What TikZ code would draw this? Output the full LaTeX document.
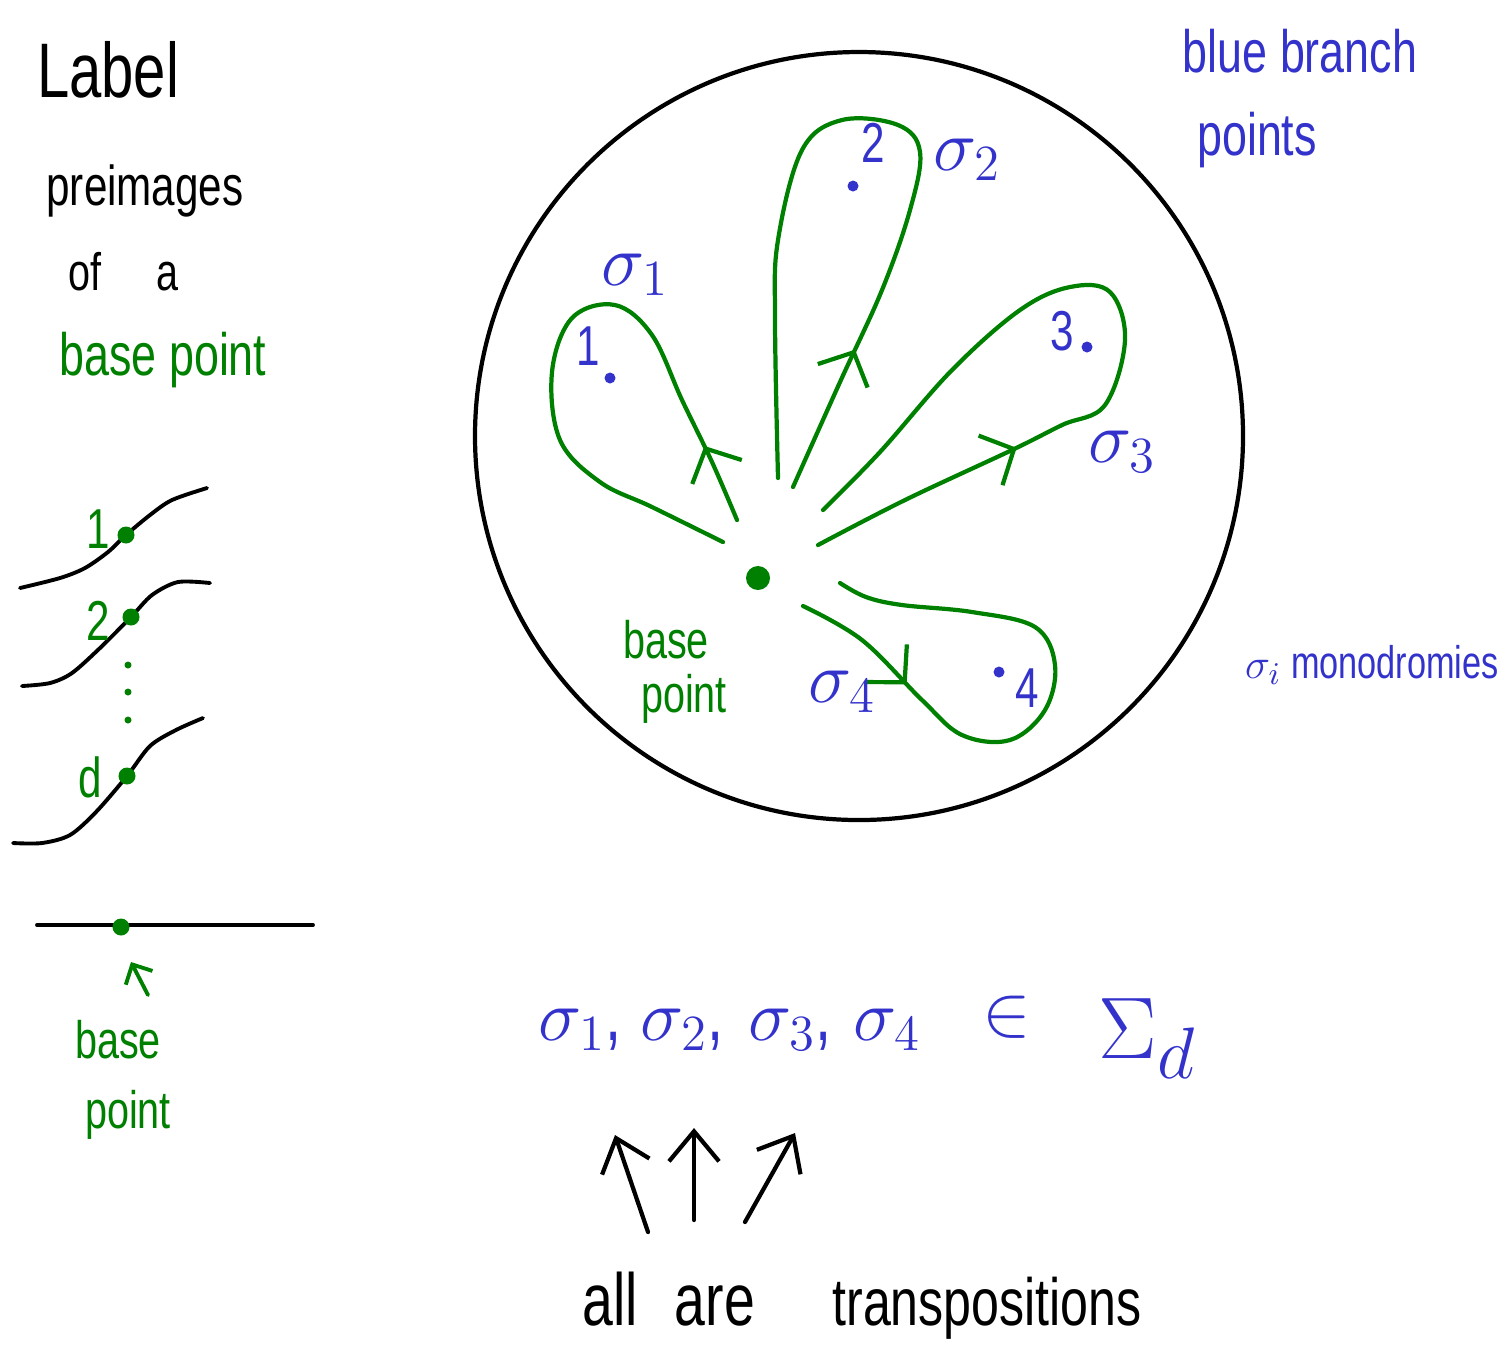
\documentclass[tikz,border=0pt]{standalone}
\usepackage{fontspec}
\setmainfont{Liberation Sans}[FakeStretch=0.75]
\usetikzlibrary{arrows.meta,decorations.markings}
\definecolor{pgreen}{RGB}{0,128,0}
\definecolor{pblue}{RGB}{51,51,204}
\newcommand{\fsz}[1]{\fontsize{#1}{#1}\selectfont}
\tikzset{
  txt/.style={inner sep=0pt, anchor=base},
  sheet/.style={black, line width=1.1pt},
  gdot/.style={circle, fill=pgreen, inner sep=0pt, minimum size=0.17cm},
  bdot/.style={circle, fill=pblue, inner sep=0pt, minimum size=0.11cm},
  monoloop/.style={pgreen, line width=1.2pt, postaction={decorate,
    decoration={markings, mark=at position #1 with {\arrow{Straight Barb[length=2.6mm,width=5.5mm]}}}}},
  bigarrow/.style={black, line width=1.2pt, -{Straight Barb[length=3mm,width=5mm]}}
}
\begin{document}
\begin{tikzpicture}[x=0.01cm, y=-0.01cm, line cap=round, line join=round]
\useasboundingbox (0,0) rectangle (1510,1365);

% left column: sheets over the base
\node[txt] (title) at (108,97) {\fsz{22pt}Label};
\node[txt] (pre) at (145,205) {\fsz{16pt}preimages};
\node[txt] (of) at (85,290) {\fsz{15pt}of};
\node[txt] (a) at (167,290) {\fsz{15pt}a};
\node[txt, pgreen] (bpt) at (163,375) {\fsz{17pt}base point};

\draw[sheet] plot[smooth] coordinates {(20,588) (60,578) (85,568) (108,552) (126,535) (150,515) (172,500) (207,488)};
\draw[sheet] plot[smooth] coordinates {(22,686) (50,683) (72,673) (100,648) (131,617) (152,595) (178,582) (210,583)};
\draw[sheet] plot[smooth] coordinates {(13,843) (42,843) (70,835) (96,812) (127,776) (150,746) (176,730) (203,718)};
\node[gdot] (s1) at (126,535) {};
\node[gdot] (s2) at (131,617) {};
\node[gdot] (sd) at (127,776) {};
\node[txt, pgreen] (l1) at (98,548) {\fsz{16pt}1};
\node[txt, pgreen] (l2) at (98,640) {\fsz{16pt}2};
\node[txt, pgreen] (ld) at (90,797) {\fsz{16pt}d};
\foreach \y in {665,692,720} {
    \fill[pgreen] (128,\y) circle (3.5);
}

\draw[sheet] (37,925) -- (313,925);
\node[gdot] (b0) at (121,927) {};
\coordinate (b0tip) at (131,962);
\coordinate (b0tail) at (148,995);
\draw[pgreen, line width=1.1pt, -{Straight Barb[length=1.5mm,width=3mm]}] (b0tail) -- (b0tip);
\node[txt, pgreen] (bl1) at (118,1058) {\fsz{15pt}base};
\node[txt, pgreen] (bl2) at (128,1128) {\fsz{15pt}point};

% the disc with branch points and loops
\draw[line width=1.2pt] (859,436) circle (384);
\node[gdot, minimum size=0.24cm] (b) at (758,578) {};
\node[bdot] (p1) at (610,378) {};
\node[bdot] (p2) at (853,186) {};
\node[bdot] (p3) at (1087,347) {};
\node[bdot] (p4) at (999,672) {};
\node[txt, pblue] (n1) at (588,365) {\fsz{16pt}1};
\node[txt, pblue] (n2) at (873,162) {\fsz{16pt}2};
\node[txt, pblue] (n3) at (1062,350) {\fsz{16pt}3};
\node[txt, pblue] (n4) at (1027,707) {\fsz{16pt}4};

\draw[monoloop=0.13] plot[smooth, tension=0.6] coordinates {(737,520) (712,462) (682,400) (652,335) (615,305) (572,318) (552,372) (560,440) (600,482) (652,507) (723,542)};
\draw[monoloop=0.18] plot[smooth, tension=0.6] coordinates {(793,487) (840,382) (882,290) (910,210) (920,152) (898,125) (842,120) (802,150) (778,240) (775,320) (778,478)};
\draw[monoloop=0.27] plot[smooth, tension=0.6] coordinates {(818,545) (905,500) (1012,450) (1062,425) (1105,405) (1125,340) (1110,292) (1070,287) (1020,310) (952,370) (880,452) (823,510)};
\draw[monoloop=0.22] plot[smooth, tension=0.6] coordinates {(803,606) (862,640) (922,700) (962,735) (1010,740) (1045,710) (1055,665) (1035,627) (972,612) (902,605) (866,597) (840,583)};

\node[txt, pblue] (g1) at (635,285) {\fsz{22pt}$\sigma_1$};
\node[txt, pblue] (g2) at (967,170) {\fsz{22pt}$\sigma_2$};
\node[txt, pblue] (g3) at (1122,462) {\fsz{22pt}$\sigma_3$};
\node[txt, pblue] (g4) at (842,702) {\fsz{22pt}$\sigma_4$};
\node[txt, pgreen] (cb1) at (666,658) {\fsz{15pt}base};
\node[txt, pgreen] (cb2) at (684,712) {\fsz{15pt}point};

% right side notes
\node[txt, pblue] (blue1) at (1300,72) {\fsz{17pt}blue branch};
\node[txt, pblue] (blue2) at (1257,155) {\fsz{17pt}points};
\node[txt, pblue] (mono) at (1372,678) {\fsz{13pt}$\sigma_i$ monodromies};

% bottom line
\node[txt, pblue, anchor=base west] (t1) at (538,1040) {\fsz{22pt}$\sigma_1$,};
\node[txt, pblue, anchor=base west] (t2) at (640,1040) {\fsz{22pt}$\sigma_2$,};
\node[txt, pblue, anchor=base west] (t3) at (748,1040) {\fsz{22pt}$\sigma_3$,};
\node[txt, pblue, anchor=base west] (t4) at (853,1040) {\fsz{22pt}$\sigma_4$};
\node[txt, pblue] (in) at (1007,1035) {\fsz{22pt}$\in$};
\node[txt, pblue, anchor=base west] (sym) at (1098,1058) {\fsz{30pt}$\Sigma_d$};

\node[txt] (all) at (610,1325) {\fsz{21pt}all};
\node[txt] (are) at (715,1325) {\fsz{21pt}are};
\node[txt] (trans) at (987,1325) {\fsz{19pt}transpositions};
\coordinate (a1) at (648,1232);
\coordinate (a2) at (694,1220);
\coordinate (a3) at (745,1222);
\coordinate (h1) at (615,1135);
\coordinate (h2) at (694,1128);
\coordinate (h3) at (795,1133);
\draw[bigarrow] (a1) -- (h1);
\draw[bigarrow] (a2) -- (h2);
\draw[bigarrow] (a3) -- (h3);
\end{tikzpicture}
\end{document}
